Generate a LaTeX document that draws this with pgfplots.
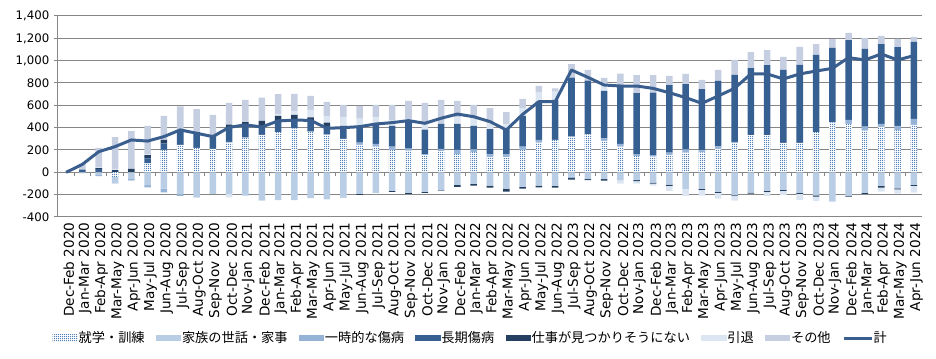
\documentclass[border=0pt]{standalone}
\usepackage{fontspec}
\setmainfont{DejaVu Sans}
\newfontfamily\jp{Noto Sans CJK JP}
\usepackage{pgfplots}
\pgfplotsset{compat=1.18}
\usepackage{pgfplotstable}
\usetikzlibrary{patterns}

\pgfdeclarepatternformonly{finedots}{\pgfqpoint{-0.5pt}{-0.5pt}}{\pgfqpoint{1.5pt}{1.5pt}}{\pgfqpoint{1.5pt}{1.5pt}}{\pgfpathcircle{\pgfqpoint{0.45pt}{0.45pt}}{0.42pt}\pgfusepath{fill}}

\definecolor{cS}{HTML}{3F74B5}
\definecolor{cK}{HTML}{B9CDE5}
\definecolor{cI}{HTML}{95B3D7}
\definecolor{cL}{HTML}{376092}
\definecolor{cW}{HTML}{243F60}
\definecolor{cR}{HTML}{DCE6F2}
\definecolor{cO}{HTML}{C6CEE2}
\definecolor{cT}{HTML}{3A5F8F}
\definecolor{gridc}{HTML}{868686}

\pgfplotstableread{
i pS pI pL pW pR pO nS nK nI nW nR tot
0 0 0 0 0 0 0 0 0 0 0 0 0
1 0 0 20 5 5 45 0 -10 0 0 0 72
2 0 0 30 8 5 175 0 -25 -10 0 0 185
3 0 0 5 15 10 285 -40 -50 -10 0 0 230
4 0 0 0 30 0 340 0 -60 -12 0 -5 290
5 80 0 45 30 5 255 0 -115 -20 0 0 280
6 200 0 60 30 0 215 0 -145 -35 0 0 320
7 245 0 130 0 5 210 0 -197 -15 0 0 380
8 220 0 130 10 0 207 0 -215 -10 0 0 350
9 210 0 115 0 0 190 0 -180 -10 0 0 320
10 265 8 130 25 0 193 0 -195 0 0 -30 403
11 310 0 120 20 0 198 0 -209 0 0 -3 425
12 335 0 75 50 0 208 0 -248 0 0 -7 406
13 360 0 95 50 15 180 0 -250 0 0 0 460
14 394 0 80 40 36 152 0 -248 0 0 0 468
15 364 0 99 30 66 125 0 -230 0 0 0 465
16 334 9 72 30 60 125 0 -242 0 0 0 394
17 299 0 99 18 80 107 0 -218 -9 0 0 400
18 245 21 149 0 66 113 0 -194 0 -9 0 409
19 230 24 170 0 69 110 0 -185 0 0 0 433
20 200 30 185 0 48 140 0 -167 0 -9 0 445
21 194 18 251 0 15 161 0 -185 0 -9 0 463
22 155 9 218 0 48 191 0 -176 0 -9 0 439
23 191 18 224 0 0 215 0 -161 0 -6 0 484
24 164 36 233 0 60 146 0 -113 0 -18 0 522
25 182 24 209 0 78 110 0 -104 0 -15 0 498
26 137 24 227 0 51 137 0 -119 0 -18 0 454
27 137 27 221 0 45 110 0 -149 0 -24 0 379
28 200 30 275 0 69 84 0 -131 0 -15 0 519
29 266 24 343 0 87 54 0 -119 0 -15 0 633
30 290 0 358 0 74 30 0 -122 0 -15 0 633
31 319 0 528 0 0 122 0 -39 -12 -15 0 916
32 340 0 481 0 0 96 0 -60 0 -9 0 851
33 281 24 424 0 69 48 0 -60 0 -15 0 782
34 230 24 519 0 0 110 0 -69 0 0 -33 773
35 146 18 546 0 0 161 0 -69 0 -9 -24 773
36 140 15 558 0 0 158 0 -93 0 -9 -18 752
37 155 21 606 0 0 81 0 -110 0 -12 -45 713
38 176 30 585 0 0 90 0 -149 0 0 -63 669
39 179 18 549 0 0 81 0 -149 0 -9 -51 618
40 209 24 585 0 0 99 0 -176 0 -9 -51 684
41 263 9 600 0 0 134 0 -203 0 -6 -45 752
42 334 0 600 0 0 143 0 -182 0 -9 0 881
43 334 0 627 0 0 134 0 -167 0 -9 -36 881
44 263 0 654 0 0 116 0 -158 0 -9 -36 836
45 263 0 699 0 0 161 0 -185 0 -9 -54 881
46 361 0 690 0 0 98 0 -206 0 -12 -39 907
47 448 0 666 0 0 78 0 -257 0 0 -9 931
48 433 36 716 0 0 63 0 -209 0 -9 0 1027
49 373 36 696 0 0 98 0 -185 0 -9 0 1006
50 406 27 716 0 0 72 0 -122 0 -15 -36 1060
51 379 36 707 0 0 72 0 -143 0 -9 -39 1006
52 424 54 690 0 0 45 0 -113 0 -9 -60 1045
}\data

\pgfplotsset{
  boxlegend/.style={legend image code/.code={\fill[##1] (0pt,-2.6pt) rectangle (19pt,2.6pt);}},
  linelegend/.style={legend image code/.code={\draw[##1] (0pt,0pt) -- (21pt,0pt);}},
  dotted bars/.style={draw=none, fill=white, postaction={pattern=finedots, pattern color=cS}},
  overlay axis/.style={at={(0,0)}, anchor=south west,
    scale only axis, width=648pt, height=150.75pt,
    xmin=-0.5, xmax=52.5, ymin=-400, ymax=1400, axis lines=none},
}

\begin{document}
\begin{tikzpicture}
\begin{axis}[
  at={(0,0)}, anchor=south west,
  scale only axis, width=648pt, height=150.75pt,
  ybar stacked, bar width=4.9pt,
  xmin=-0.5, xmax=52.5, ymin=-400, ymax=1400,
  ytick={-400,-200,...,1400},
  ymajorgrids, grid style={gridc, line width=0.75pt},
  axis x line*=bottom, axis y line*=left,
  x axis line style={draw=none},
  y axis line style={gridc, line width=0.75pt, -},
  xtick={0,...,52},
  xticklabels={Dec-Feb 2020,Jan-Mar 2020,Feb-Apr 2020,Mar-May 2020,Apr-Jun 2020,May-Jul 2020,Jun-Aug 2020,Jul-Sep 2020,Aug-Oct 2020,Sep-Nov 2020,Oct-Dec 2020,Nov-Jan 2021,Dec-Feb 2021,Jan-Mar 2021,Feb-Apr 2021,Mar-May 2021,Apr-Jun 2021,May-Jul 2021,Jun-Aug 2021,Jul-Sep 2021,Aug-Oct 2021,Sep-Nov 2021,Oct-Dec 2021,Nov-Jan 2022,Dec-Feb 2022,Jan-Mar 2022,Feb-Apr 2022,Mar-May 2022,Apr-Jun 2022,May-Jul 2022,Jun-Aug 2022,Jul-Sep 2023,Aug-Oct 2022,Sep-Nov 2022,Oct-Dec 2022,Nov-Jan 2023,Dec-Feb 2023,Jan-Mar 2023,Feb-Apr 2023,Mar-May 2023,Apr-Jun 2023,May-Jul 2023,Jun-Aug 2023,Jul-Sep 2023,Aug-Oct 2023,Sep-Nov 2023,Oct-Dec 2023,Nov-Jan 2024,Dec-Feb 2024,Jan-Mar 2024,Feb-Apr 2024,Mar-May 2024,Apr-Jun 2024},
  x tick style={draw=none},
  y tick style={gridc, line width=0.75pt},
  tick align=outside, major tick length=3pt,
  x tick label style={rotate=90, anchor=east, font=\fontsize{10.2}{10}\selectfont, inner sep=1pt, yshift=-2pt},
  y tick label style={font=\fontsize{8.8}{10}\selectfont},
  yticklabel style={/pgf/number format/1000 sep={,}},
  /pgf/number format/assume math mode=true,
  legend columns=-1,
  legend style={draw=none, fill=none, at={(0.477,-0.602)}, anchor=center,
    font=\jp\fontsize{9.9}{11}\selectfont,
    /tikz/every even column/.append style={column sep=8pt},
    /tikz/every odd column/.append style={column sep=0pt},
    nodes={inner sep=0.5pt}},
]
\draw[gridc, line width=0.75pt] (axis cs:-0.5,0) -- (axis cs:52.5,0);
\pgfplotsinvokeforeach{-0.5,0.5,...,52.5}{\draw[gridc, line width=0.75pt] (axis cs:#1,0) -- ++(0pt,-3pt);}
\addplot[boxlegend, dotted bars] table[x=i,y=pS]{\data};
\addlegendentry{就学・訓練}
\addplot[boxlegend, draw=none, fill=cK] table[x=i,y expr=0]{\data};
\addlegendentry{家族の世話・家事}
\addplot[boxlegend, draw=none, fill=cI] table[x=i,y=pI]{\data};
\addlegendentry{一時的な傷病}
\addplot[boxlegend, draw=none, fill=cL] table[x=i,y=pL]{\data};
\addlegendentry{長期傷病}
\addplot[boxlegend, draw=none, fill=cW] table[x=i,y=pW]{\data};
\addlegendentry{仕事が見つかりそうにない}
\addplot[boxlegend, draw=none, fill=cR] table[x=i,y=pR]{\data};
\addlegendentry{引退}
\addplot[boxlegend, draw=none, fill=cO] table[x=i,y=pO]{\data};
\addlegendentry{その他}
\addlegendimage{linelegend, cT, line width=2.25pt}
\addlegendentry{計}
\end{axis}
\begin{axis}[overlay axis, ybar stacked, bar width=4.9pt]
\addplot[dotted bars] table[x=i,y=nS]{\data};
\addplot[draw=none, fill=cK] table[x=i,y=nK]{\data};
\addplot[draw=none, fill=cI] table[x=i,y=nI]{\data};
\addplot[draw=none, fill=cW] table[x=i,y=nW]{\data};
\addplot[draw=none, fill=cR] table[x=i,y=nR]{\data};
\end{axis}
\begin{axis}[overlay axis]
\addplot[cT, line width=2.25pt, no marks, line join=round] table[x=i,y=tot]{\data};
\end{axis}
\pgfresetboundingbox
\useasboundingbox (-43.5pt,-106.5pt) rectangle (658.5pt,162.75pt);
\end{tikzpicture}
\end{document}
